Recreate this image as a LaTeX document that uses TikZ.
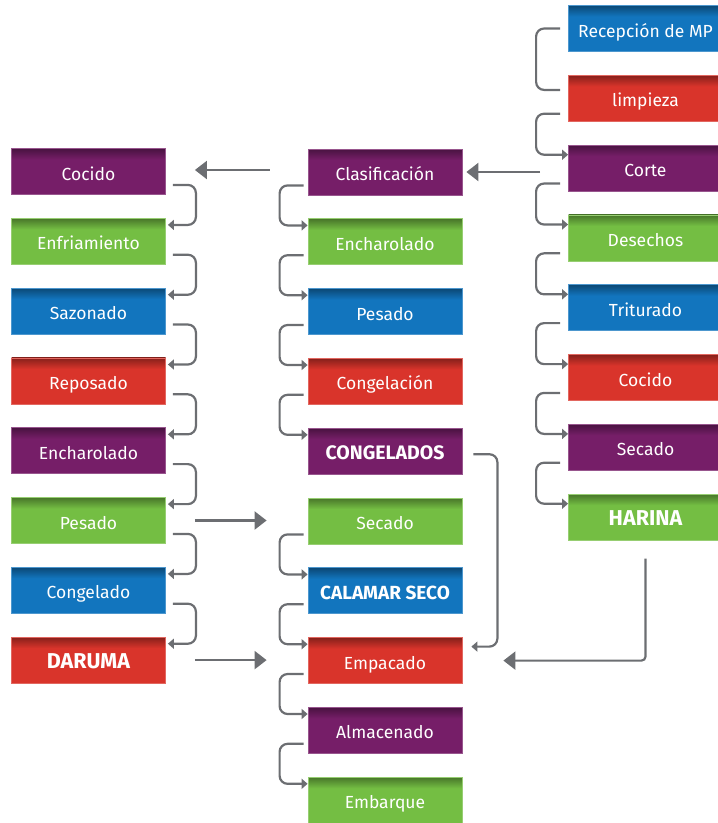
\documentclass[tikz,border=0pt]{standalone}
\usepackage{fontspec}
\setmainfont{Fira Sans}
\usepackage{tikz}
\usetikzlibrary{arrows.meta,positioning,calc}

\definecolor{cblue}{RGB}{18,117,190}
\definecolor{cred}{RGB}{217,52,43}
\definecolor{cpurple}{RGB}{118,30,104}
\definecolor{cgreen}{RGB}{116,190,67}
\definecolor{cline}{RGB}{108,110,114}
\colorlet{boxc}{cblue}
\pgfdeclareverticalshading[boxc]{boxshade}{100bp}{color(0bp)=(boxc); color(25bp)=(boxc); color(63bp)=(boxc); color(75bp)=(boxc!62!black); color(100bp)=(boxc!62!black)}

\tikzset{
  box/.style={/utils/exec={\colorlet{boxc}{#1}}, shading=boxshade, draw=#1!75!white, line width=0.8pt, text=white,
    minimum width=154pt, minimum height=46pt, inner sep=0pt, text height=17pt, text depth=0pt},
  big/.style={font=\fontsize{#1}{#1}\selectfont\bfseries},
  link/.style={draw=cline, line width=2.2pt, rounded corners=8pt, -{Triangle[length=6pt,width=10pt]}},
  bigarrow/.style={draw=cline, line width=2.2pt, -{Triangle[length=12pt,width=18pt]}}
}

\begin{document}
\begin{tikzpicture}[x=1pt, y=-1pt, node distance=23pt, every node/.style={font=\fontsize{17.5}{19}\selectfont}]
\useasboundingbox (0,0) rectangle (718,823);

% columna derecha
\node[box=cblue] (rec) at (645.5,28.5) {Recepción de MP};
\node[box=cred, below=of rec] (lim) {limpieza};
\node[box=cpurple, below=of lim] (cor) {Corte};
\node[box=cgreen, below=of cor] (des) {Desechos};
\node[box=cblue, below=of des] (tri) {Triturado};
\node[box=cred, below=of tri] (coc2) {Cocido};
\node[box=cpurple, below=of coc2] (sec2) {Secado};
\node[box=cgreen, big=21.5, below=of sec2] (har) {HARINA};

% columna central
\node[box=cpurple] (cla) at (385,172) {Clasificación};
\node[box=cgreen, below=of cla] (enc) {Encharolado};
\node[box=cblue, below=of enc] (pes) {Pesado};
\node[box=cred, below=of pes] (cgl) {Congelación};
\node[box=cpurple, big=19.5, below=of cgl] (cgs) {CONGELADOS};
\node[box=cgreen, below=of cgs] (sec) {Secado};
\node[box=cblue, big=19, below=of sec] (cal) {CALAMAR SECO};
\node[box=cred, below=of cal] (emp) {Empacado};
\node[box=cpurple, below=of emp] (alm) {Almacenado};
\node[box=cgreen, below=of alm] (emb) {Embarque};

% columna izquierda
\node[box=cpurple] (coc) at (88.5,171.5) {Cocido};
\node[box=cgreen, below=of coc] (enf) {Enfriamiento};
\node[box=cblue, below=of enf] (saz) {Sazonado};
\node[box=cred, below=of saz] (rep) {Reposado};
\node[box=cpurple, below=of rep] (enc1) {Encharolado};
\node[box=cgreen, below=of enc1] (pes1) {Pesado};
\node[box=cblue, below=of pes1] (cgd) {Congelado};
\node[box=cred, big=21.5, below=of cgd] (dar) {DARUMA};

% pasos de la derecha
\draw[link, -] ($(rec.west)+(-8,0)$) -| ($(lim.north west)+(-32,15)$) -- ($(lim.north west)+(-8,15)$);
\draw[link] ($(lim.south west)+(-8,-8)$) -| ($(cor.north west)+(-32,10)$) -- ($(cor.north west)+(0,10)$);
\draw[link] ($(cor.south west)+(-8,-8)$) -| ($(des.north west)+(-32,10)$) -- ($(des.north west)+(0,10)$);
\draw[link] ($(des.south west)+(-8,-8)$) -| ($(tri.north west)+(-32,10)$) -- ($(tri.north west)+(0,10)$);
\draw[link] ($(tri.south west)+(-8,-8)$) -| ($(coc2.north west)+(-32,10)$) -- ($(coc2.north west)+(0,10)$);
\draw[link] ($(coc2.south west)+(-8,-8)$) -| ($(sec2.north west)+(-32,10)$) -- ($(sec2.north west)+(0,10)$);
\draw[link] ($(sec2.south west)+(-8,-8)$) -| ($(har.north west)+(-32,10)$) -- ($(har.north west)+(0,10)$);

% pasos del centro
\draw[link] ($(cla.south west)+(-4,-10)$) -| ($(enc.north west)+(-28,7)$) -- ($(enc.north west)+(0,7)$);
\draw[link] ($(enc.south west)+(-4,-10)$) -| ($(pes.north west)+(-28,7)$) -- ($(pes.north west)+(0,7)$);
\draw[link] ($(pes.south west)+(-4,-10)$) -| ($(cgl.north west)+(-28,7)$) -- ($(cgl.north west)+(0,7)$);
\draw[link] ($(cgl.south west)+(-4,-10)$) -| ($(cgs.north west)+(-28,7)$) -- ($(cgs.north west)+(0,7)$);
\draw[link] ($(sec.south west)+(-4,-10)$) -| ($(cal.north west)+(-28,7)$) -- ($(cal.north west)+(0,7)$);
\draw[link] ($(cal.south west)+(-4,-10)$) -| ($(emp.north west)+(-28,7)$) -- ($(emp.north west)+(0,7)$);
\draw[link] ($(emp.south west)+(-4,-10)$) -| ($(alm.north west)+(-28,7)$) -- ($(alm.north west)+(0,7)$);
\draw[link] ($(alm.south west)+(-4,-10)$) -| ($(emb.north west)+(-28,7)$) -- ($(emb.north west)+(0,7)$);

% pasos de la izquierda
\draw[link] ($(coc.south east)+(7,-10)$) -| ($(enf.north east)+(30,7)$) -- ($(enf.north east)+(2,7)$);
\draw[link] ($(enf.south east)+(7,-10)$) -| ($(saz.north east)+(30,7)$) -- ($(saz.north east)+(2,7)$);
\draw[link] ($(saz.south east)+(7,-10)$) -| ($(rep.north east)+(30,7)$) -- ($(rep.north east)+(2,7)$);
\draw[link] ($(rep.south east)+(7,-10)$) -| ($(enc1.north east)+(30,7)$) -- ($(enc1.north east)+(2,7)$);
\draw[link] ($(enc1.south east)+(7,-10)$) -| ($(pes1.north east)+(30,7)$) -- ($(pes1.north east)+(2,7)$);
\draw[link] ($(pes1.south east)+(7,-10)$) -| ($(cgd.north east)+(30,7)$) -- ($(cgd.north east)+(2,7)$);
\draw[link] ($(cgd.south east)+(7,-10)$) -| ($(dar.north east)+(30,7)$) -- ($(dar.north east)+(2,7)$);

% entre columnas
\draw[bigarrow] ($(cor.west |- cla.east)+(-28,0)$) -- ($(cla.east)+(4,0)$);
\draw[bigarrow] ($(cla.west)+(-38,-2)$) -- ($(coc.east |- cla.west)+(29,-2)$);
\draw[bigarrow] ($(pes1.east)+(29,0)$) -- ($(sec.west |- pes1.east)+(-41,0)$);
\draw[bigarrow] ($(dar.east)+(29,0)$) -- ($(emp.west |- dar.east)+(-41,0)$);
\draw[link] ($(cgs.east)+(11,3)$) -| ($(emp.east)+(35,-14)$) -- ($(emp.east)+(9,-14)$);
\draw[bigarrow, rounded corners=4pt] ($(har.south)+(0,18)$) |- ($(emp.east)+(41,0)$);
\end{tikzpicture}
\end{document}
